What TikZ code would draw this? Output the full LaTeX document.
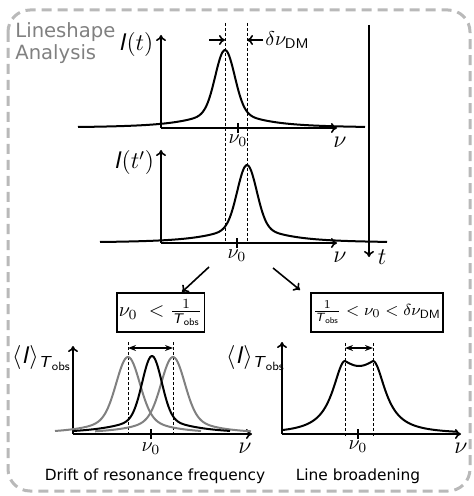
\documentclass[tikz,border=0pt]{standalone}
\usepackage{amsmath,fontspec}
\newfontfamily\djv{DejaVu Sans}
\usetikzlibrary{arrows.meta}
\tikzset{ax/.style={-{To[length=3pt,width=5pt]},line width=0.8pt},
  crv/.style={line width=1pt},
  dot/.style={dash pattern=on 1.5pt off 1pt,line width=0.5pt},
  tck/.style={line width=1.2pt},
  eq/.style={draw,line width=0.7pt,minimum height=19.5pt,inner sep=1pt},
  dbl/.style={{Stealth[length=4pt]}-{Stealth[length=4pt]},line width=0.9pt},
  lbl/.style={font=\large}}
\newcommand{\Iv}{\textsf{\textit{I}}}
\newcommand{\Tob}{\textsf{\textit{T}}_{\textsf{obs}}}

\begin{document}
\begin{tikzpicture}[x=0.5pt,y=-0.5pt,
  declare function={pk(\d)=62*exp(0-min((\d/13.5)*(\d/13.5),30))+16/(1+(\d/38)*(\d/38));
    pg(\d)=56*exp(0-min((\d/16)*(\d/16),30))+21/(1+(\d/30)*(\d/30));
    br(\d)=ifthenelse(abs(\d)>14,73/(1+((abs(\d)-14)/15)*((abs(\d)-14)/15)),73-5*cos(90*abs(\d)/14));}]
\useasboundingbox (0,0) rectangle (474,496);
\draw[gray!55,line width=1.5pt,dash pattern=on 5pt off 3pt,rounded corners=11pt] (8,10) rectangle (470,491);
\node[anchor=north west,align=left,text=gray,font=\djv\fontsize{9.8}{11.2}\selectfont,inner sep=0pt] (title) at (15,22) {Lineshape\\Analysis};
% spectra at t and t'
\foreach\x in{225,247}\draw[dot](\x,23)--(\x,244);
\coordinate (o1) at (161,128);\coordinate (y1) at (161,35);\coordinate (x1) at (337,128);
\coordinate (o2) at (161,243);\coordinate (y2) at (161,150);\coordinate (x2) at (337,243);
\draw[ax](o1)--(y1);\draw[ax](o1)--(x1);\draw[ax](o2)--(y2);\draw[ax](o2)--(x2);
\draw[crv] plot[domain=78:365,samples=150,smooth](\x,{128-pk(\x-225)});
\draw[crv] plot[domain=100:387,samples=150,smooth](\x,{243-pk(\x-247)});
\coordinate (t0) at (369,25);\coordinate (t1) at (369,257);\draw[ax](t0)--(t1);
\draw[tck](238,123)--(238,133);\draw[tck](237,238)--(237,248);
\coordinate (p0) at (209,40);\coordinate (p1) at (225,40);\coordinate (q0) at (263,40);\coordinate (q1) at (247,40);
\draw[ax](p0)--(p1);\draw[ax](q0)--(q1);
\node[anchor=west,inner sep=1pt] (dnu) at (q0) {$\delta\nu_{\textsf{DM}}$};
\node[lbl] (it) at (136,45) {$\Iv(t)$};\node[lbl] (itp) at (134,163) {$\Iv(t')$};
\node[lbl] (nu1) at (340,142) {$\nu$};\node[lbl] (nu2) at (340,257) {$\nu$};\node[lbl] (tt) at (382,257) {$t$};
\node (n01) at (238,141) {$\nu_0$};\node (n02) at (237,256) {$\nu_0$};
% two regimes
\node[eq,minimum width=43.5pt] (lbox) at (160.5,312.5) {$\nu_0\;<\frac{1}{\Tob}$};
\node[eq,minimum width=60pt,font=\fontsize{8.5}{10}\selectfont] (rbox) at (377,312.5) {$\frac{1}{\Tob}<\nu_0<\delta\nu_{\textsf{DM}}$};
\coordinate (a0) at (209,267);\coordinate (a1) at (182,292);\coordinate (b0) at (273,268);\coordinate (b1) at (300,290);
\draw[ax](a0)--(a1);\draw[ax](b0)--(b1);
% drift
\foreach\x in{128,173}\draw[dot](\x,342)--(\x,435);
\coordinate (o3) at (73,434);\coordinate (y3) at (73,346);\coordinate (x3) at (252,434);
\draw[ax](o3)--(y3);\draw[ax](o3)--(x3);
\draw[crv,gray] plot[domain=55:201,samples=120,smooth](\x,{434-pg(\x-128)});
\draw[crv,gray] plot[domain=95:251,samples=120,smooth](\x,{434-pg(\x-173)});
\draw[crv] plot[domain=74:230,samples=120,smooth](\x,{434-pk(\x-152)});
\coordinate (l0) at (128,348);\coordinate (l1) at (173,348);\draw[dbl](l0)--(l1);
\draw[tck](151,429)--(151,439);
\node (n03) at (151,449) {$\nu_0$};\node[lbl] (nu3) at (245,448) {$\nu$};
\node[lbl] (il) at (42,358) {$\langle\Iv\rangle_{\Tob}$};
\node[font=\djv\fontsize{7.7}{9}\selectfont] (cap1) at (155,476) {Drift of resonance frequency};
% broadening
\foreach\x in{345,373}\draw[dot](\x,343)--(\x,436);
\coordinate (o4) at (282,434);\coordinate (y4) at (282,342);\coordinate (x4) at (461,434);
\draw[ax](o4)--(y4);\draw[ax](o4)--(x4);
\draw[crv] plot[domain=282:458,samples=200,smooth](\x,{434-br(\x-359)});
\coordinate (r0) at (345,348);\coordinate (r1) at (373,348);\draw[dbl](r0)--(r1);
\draw[tck](358,429)--(358,439);
\node (n04) at (358,447) {$\nu_0$};\node[lbl] (nu4) at (461,448) {$\nu$};
\node[lbl] (ir) at (256,358) {$\langle\Iv\rangle_{\Tob}$};
\node[font=\djv\fontsize{7.7}{9}\selectfont] (cap2) at (358,476) {Line broadening};
\end{tikzpicture}
\end{document}
